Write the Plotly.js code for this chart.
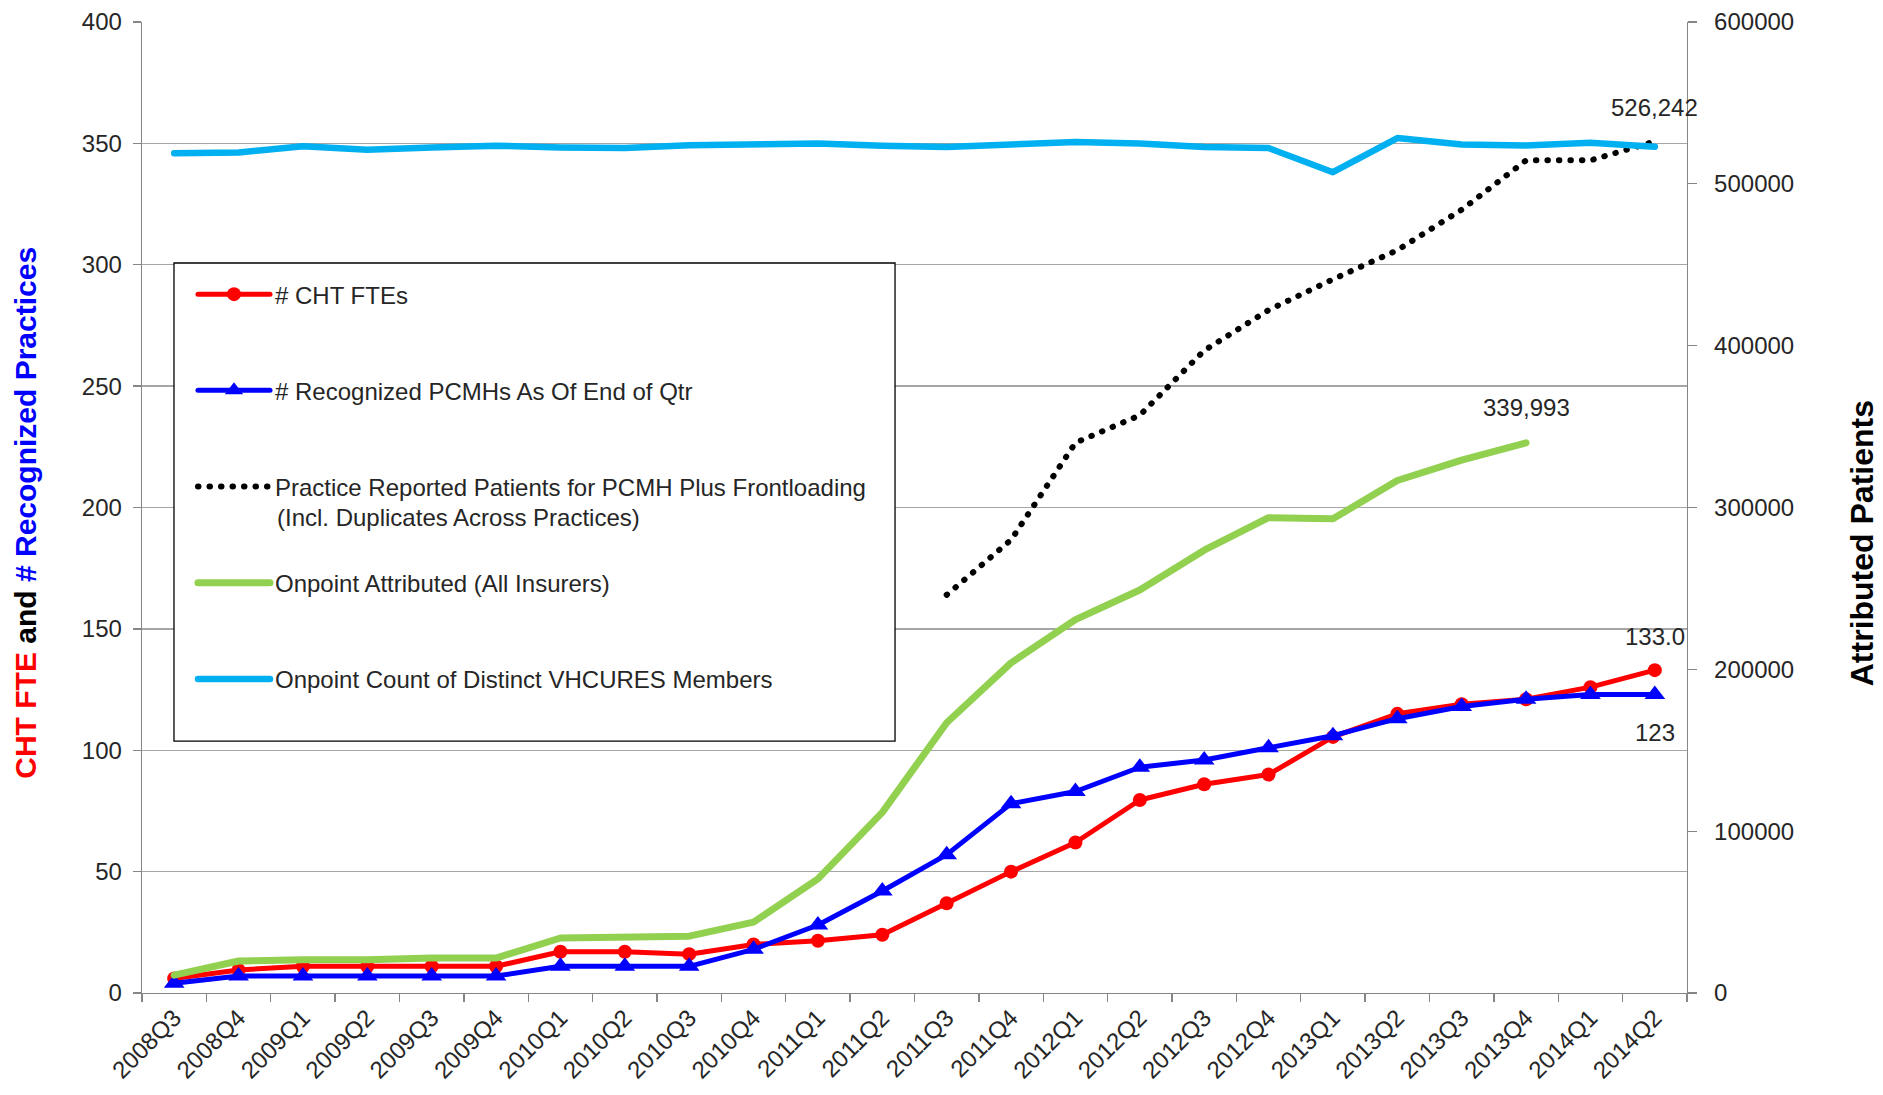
<!DOCTYPE html>
<html>
<head>
<meta charset="utf-8">
<script src="https://cdn.plot.ly/plotly-3.0.1.min.js"></script>
<style>
  html, body { margin: 0; padding: 0; background: #ffffff; }
  #chart { width: 1883px; height: 1095px; }
  /* rounded ends give the dotted series round dots and smooth joins */
  #chart .scatterlayer .js-line,
  #chart .legendlines path { stroke-linecap: round; stroke-linejoin: round; }
</style>
</head>
<body>
<div id="chart"></div>
<script>
// Quarterly reporting periods
const quarters = ['2008Q3','2008Q4','2009Q1','2009Q2','2009Q3','2009Q4',
                  '2010Q1','2010Q2','2010Q3','2010Q4','2011Q1','2011Q2',
                  '2011Q3','2011Q4','2012Q1','2012Q2','2012Q3','2012Q4',
                  '2013Q1','2013Q2','2013Q3','2013Q4','2014Q1','2014Q2'];

// Left axis: CHT FTEs and recognized practices
const chtFte = [6, 9.5, 11, 11, 11, 11, 17, 17, 16, 20, 21.5, 24,
                37, 50, 62, 79.5, 86, 90, 105.5, 115, 119, 121, 126, 133.0];
const recognizedPcmh = [4, 7, 7, 7, 7, 7, 11, 11, 11, 18, 28, 42,
                        57, 78, 83, 93, 96, 101, 106, 113, 118, 121, 123, 123];

// Right axis: patient counts
const practiceReported = [null, null, null, null, null, null, null, null, null, null, null, null,
                          246000, 280000, 340000, 357000, 397000, 422000,
                          441000, 459000, 484000, 514500, 514500, 526242];
const onpointAttributed = [11000, 19800, 20500, 20500, 21600, 21600, 34000, 35000, 35100, 43800, 70500, 111600,
                           167000, 204000, 230700, 249000, 273600, 293700, 293000, 316700, 329300, 339993, null, null];
const vhcuresMembers = [518900, 519400, 523200, 521100, 522500, 523600, 522500, 522100, 523900, 524300, 525000, 523600,
                        522800, 524300, 525800, 525000, 522800, 522100, 507200, 528300, 524300, 523700, 525400, 522900];

const seriesNames = ['# CHT FTEs',
                     '# Recognized PCMHs As Of End of Qtr',
                     'Practice Reported Patients for PCMH Plus Frontloading',
                     'Onpoint Attributed (All Insurers)',
                     'Onpoint Count of Distinct VHCURES Members'];
const practiceNote = '(Incl. Duplicates Across Practices)';

const FONT = 'Liberation Sans, Arial, sans-serif';
const TEXT = '#262626';
const AXIS = '#868686';

const traces = [
  { x: quarters, y: chtFte, name: seriesNames[0], legendgroup: 'g1', yaxis: 'y',
    type: 'scatter', mode: 'lines+markers',
    line: { color: '#ff0000', width: 5 },
    marker: { symbol: 'circle', size: 14, color: '#ff0000' } },
  { x: quarters, y: recognizedPcmh, name: seriesNames[1], legendgroup: 'g2', yaxis: 'y',
    type: 'scatter', mode: 'lines+markers',
    line: { color: '#0000ff', width: 5 },
    marker: { symbol: 'triangle-up', size: 18, color: '#0000ff' } },
  { x: quarters, y: practiceReported, name: seriesNames[2], legendgroup: 'g3', yaxis: 'y2',
    type: 'scatter', mode: 'lines',
    line: { color: '#000000', width: 6, dash: '0.5px,11px' } },
  { x: quarters, y: onpointAttributed, name: seriesNames[3], legendgroup: 'g4', yaxis: 'y2',
    type: 'scatter', mode: 'lines',
    line: { color: '#92d050', width: 7 } },
  { x: quarters, y: vhcuresMembers, name: seriesNames[4], legendgroup: 'g5', yaxis: 'y2',
    type: 'scatter', mode: 'lines',
    line: { color: '#00b0f0', width: 6.5 } }
];

const last = quarters.length - 1;
const attrLast = 21;

const annotations = [
  // value labels at series ends
  { x: quarters[last], y: practiceReported[last], yref: 'y2', xref: 'x',
    text: practiceReported[last].toLocaleString('en-US'), showarrow: false, yshift: 34,
    font: { family: FONT, size: 24, color: TEXT } },
  { x: quarters[attrLast], y: onpointAttributed[attrLast], yref: 'y2', xref: 'x',
    text: onpointAttributed[attrLast].toLocaleString('en-US'), showarrow: false, yshift: 35,
    font: { family: FONT, size: 24, color: TEXT } },
  { x: quarters[last], y: chtFte[last], yref: 'y', xref: 'x',
    text: chtFte[last].toFixed(1), showarrow: false, yshift: 34,
    font: { family: FONT, size: 24, color: TEXT } },
  { x: quarters[last], y: recognizedPcmh[last], yref: 'y', xref: 'x',
    text: String(recognizedPcmh[last]), showarrow: false, yshift: -38,
    font: { family: FONT, size: 24, color: TEXT } },
  // second line of the practice-reported legend entry
  { xref: 'paper', yref: 'paper', x: 0.0861, y: 0.4892, xanchor: 'left', yanchor: 'middle',
    text: practiceNote, showarrow: false,
    font: { family: FONT, size: 24, color: TEXT } },
  // axis titles
  { xref: 'paper', yref: 'paper', x: -0.0755, y: 0.495, xanchor: 'center', yanchor: 'middle',
    textangle: -90, showarrow: false,
    text: '<span style="color:#ff0000">CHT FTE</span> and <span style="color:#0000ff"># Recognized Practices</span>',
    font: { family: FONT, size: 30, color: '#000000', weight: 'bold' } },
  { xref: 'paper', yref: 'paper', x: 1.1138, y: 0.463, xanchor: 'center', yanchor: 'middle',
    textangle: -90, showarrow: false, text: 'Attributed Patients',
    font: { family: FONT, size: 32, color: '#000000', weight: 'bold' } }
];

const layout = {
  width: 1883, height: 1095,
  margin: { l: 142, r: 196, t: 22, b: 102 },
  paper_bgcolor: '#ffffff', plot_bgcolor: '#ffffff',
  font: { family: FONT, size: 24, color: TEXT },
  showlegend: true,
  legend: {
    x: 0.033, y: 0.7425, xanchor: 'left', yanchor: 'top',
    bgcolor: 'rgba(0,0,0,0)', borderwidth: 0,
    font: { family: FONT, size: 24, color: TEXT },
    tracegroupgap: 62, itemwidth: 72, traceorder: 'grouped'
  },
  xaxis: {
    type: 'category', range: [-0.5, 23.5],
    tickson: 'boundaries', ticks: 'outside', ticklen: 8, tickcolor: AXIS, tickwidth: 1.3,
    showline: true, linecolor: AXIS, linewidth: 1.3,
    showgrid: false, zeroline: false, tickangle: -45,
    tickfont: { family: FONT, size: 24, color: TEXT }
  },
  yaxis: {
    range: [0, 400], dtick: 50, tick0: 0,
    ticks: 'outside', ticklen: 8, tickcolor: AXIS, tickwidth: 1.3,
    showline: true, linecolor: AXIS, linewidth: 1.3,
    showgrid: true, gridcolor: '#a6a6a6', gridwidth: 1.3, zeroline: false,
    ticklabelstandoff: 6,
    tickfont: { family: FONT, size: 24, color: TEXT }
  },
  yaxis2: {
    overlaying: 'y', side: 'right',
    range: [0, 600000], dtick: 100000, tick0: 0, tickformat: 'd',
    ticks: 'outside', ticklen: 9, tickcolor: AXIS, tickwidth: 1.3,
    showline: true, linecolor: AXIS, linewidth: 1.3,
    showgrid: false, zeroline: false,
    ticklabelstandoff: 12,
    tickfont: { family: FONT, size: 24, color: TEXT }
  },
  shapes: [
    // legend frame, opaque so the gridlines stop at its edge
    { type: 'rect', xref: 'paper', yref: 'paper',
      x0: 0.0207, x1: 0.4874, y0: 0.2595, y1: 0.7518,
      line: { color: '#000000', width: 1.3 }, fillcolor: '#ffffff', layer: 'above' }
  ],
  annotations: annotations
};

Plotly.newPlot('chart', traces, layout, { staticPlot: true, displayModeBar: false });
</script>
</body>
</html>
